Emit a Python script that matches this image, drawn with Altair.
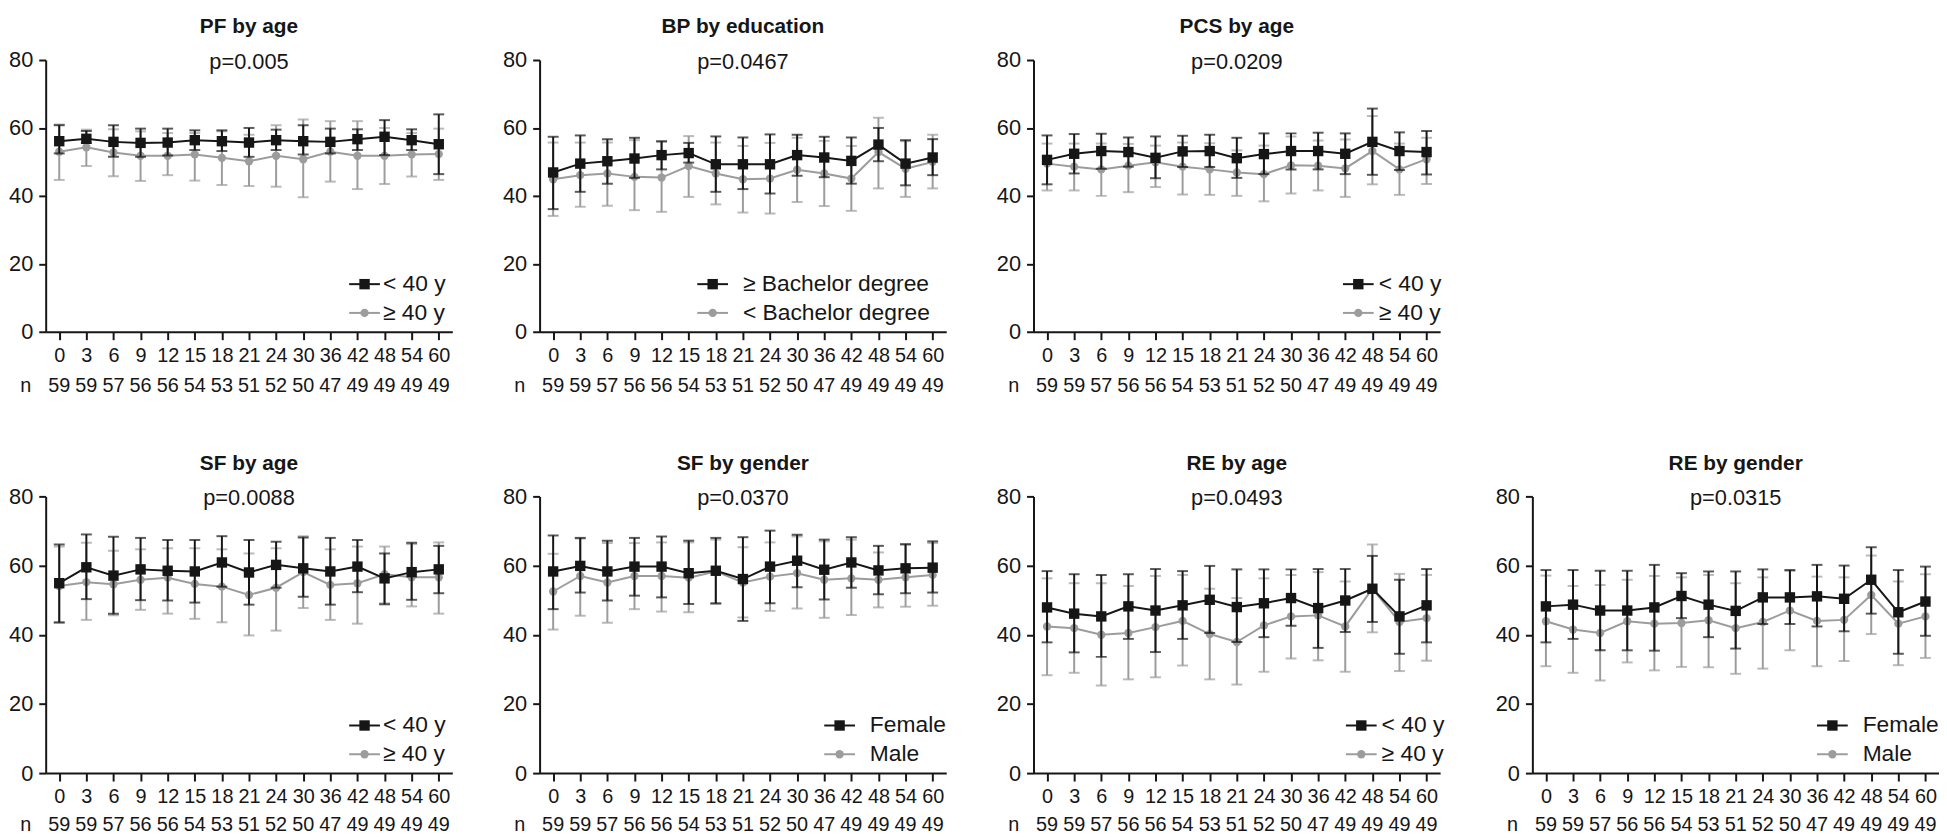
import altair as alt
import pandas as pd

# ---------------- data ----------------
months = ["0", "3", "6", "9", "12", "15", "18", "21", "24", "30", "36", "42", "48", "54", "60"]
n_counts = [59, 59, 57, 56, 56, 54, 53, 51, 52, 50, 47, 49, 49, 49, 49]

# PF by age
pf_young_mean = [56.1, 56.8, 55.9, 55.6, 55.7, 56.4, 56.1, 55.7, 56.4, 56.1, 55.9, 56.7, 57.4, 56.4, 55.2]
pf_young_hi = [60.8, 59.1, 60.8, 59.8, 59.8, 59.3, 59.3, 60.0, 59.5, 60.8, 59.8, 59.6, 62.3, 59.6, 64.0]
pf_young_lo = [52.5, 55.6, 51.5, 51.5, 51.9, 53.5, 53.2, 51.5, 53.5, 52.2, 52.5, 53.5, 52.0, 53.5, 46.4]
pf_old_mean = [53.0, 54.3, 52.8, 51.8, 51.8, 52.2, 51.2, 50.2, 51.8, 50.8, 53.0, 51.8, 51.8, 52.2, 52.3]
pf_old_hi = [61.0, 59.5, 59.6, 59.0, 58.5, 58.5, 59.0, 58.0, 60.8, 62.5, 62.0, 62.0, 60.0, 58.5, 59.8]
pf_old_lo = [44.7, 48.8, 45.8, 44.4, 46.1, 44.5, 43.2, 42.9, 42.7, 39.6, 44.2, 42.0, 43.5, 45.7, 44.7]

# BP by education
bp_hi_ed_mean = [46.9, 49.5, 50.2, 51.0, 52.0, 52.6, 49.3, 49.3, 49.3, 52.0, 51.3, 50.3, 55.1, 49.5, 51.3]
bp_hi_ed_hi = [57.4, 57.8, 56.7, 57.1, 56.1, 55.6, 57.5, 57.2, 58.1, 58.0, 57.4, 57.2, 60.0, 56.4, 56.7]
bp_hi_ed_lo = [36.1, 41.2, 43.6, 45.3, 47.8, 49.8, 41.2, 42.0, 40.7, 45.9, 45.5, 43.6, 50.2, 43.1, 46.1]
bp_lo_ed_mean = [44.9, 46.1, 46.6, 45.6, 45.4, 48.8, 46.6, 44.9, 45.1, 47.7, 46.6, 45.1, 52.9, 48.0, 50.0]
bp_lo_ed_hi = [55.7, 55.7, 55.7, 56.4, 55.9, 57.6, 55.7, 54.7, 55.6, 57.1, 56.2, 54.7, 63.0, 56.1, 58.0]
bp_lo_ed_lo = [34.1, 36.8, 37.1, 35.8, 35.3, 39.7, 37.5, 35.1, 34.8, 38.2, 37.0, 35.6, 42.2, 39.7, 42.2]

# PCS by age
pcs_young_mean = [50.6, 52.4, 53.2, 52.9, 51.2, 53.1, 53.2, 51.1, 52.3, 53.2, 53.2, 52.4, 55.9, 53.2, 52.9]
pcs_young_hi = [57.8, 58.2, 58.3, 57.2, 57.5, 57.7, 58.0, 57.1, 58.4, 58.4, 58.6, 58.4, 65.7, 58.7, 59.1]
pcs_young_lo = [43.4, 46.6, 48.0, 48.6, 45.2, 48.5, 48.5, 45.3, 46.4, 47.8, 47.8, 46.4, 46.2, 47.6, 46.3]
pcs_old_mean = [49.5, 48.6, 47.8, 48.9, 49.9, 48.6, 47.8, 46.9, 46.4, 49.0, 48.9, 48.1, 53.2, 47.8, 50.8]
pcs_old_hi = [55.4, 55.4, 55.4, 55.3, 54.8, 55.7, 55.5, 53.4, 54.8, 57.5, 56.3, 56.6, 63.5, 55.4, 57.1]
pcs_old_lo = [41.6, 41.6, 40.0, 41.1, 42.6, 40.4, 40.3, 40.0, 38.4, 40.7, 41.6, 39.7, 43.4, 40.3, 43.5]

# SF by age
sfa_young_mean = [54.9, 59.5, 57.1, 58.9, 58.5, 58.3, 60.9, 58.0, 60.2, 59.2, 58.3, 59.7, 56.3, 58.1, 58.9]
sfa_young_hi = [66.1, 69.0, 68.3, 68.0, 67.4, 67.4, 68.5, 67.4, 66.9, 68.1, 68.0, 67.4, 63.5, 66.6, 65.7]
sfa_young_lo = [43.6, 50.3, 46.1, 50.0, 49.9, 49.3, 53.9, 48.7, 53.6, 51.0, 48.7, 52.3, 48.8, 50.1, 52.0]
sfa_old_mean = [54.1, 55.2, 54.6, 55.9, 56.5, 54.7, 53.9, 51.5, 53.6, 58.1, 54.4, 54.9, 57.5, 56.6, 56.6]
sfa_old_hi = [65.5, 66.6, 64.3, 64.7, 65.0, 65.0, 64.7, 63.5, 65.0, 68.5, 64.7, 65.5, 65.5, 66.2, 66.7]
sfa_old_lo = [43.4, 44.3, 45.6, 47.2, 46.1, 44.6, 43.6, 39.8, 41.2, 47.7, 44.3, 43.2, 49.1, 48.2, 46.1]

# SF by gender
sfg_female_mean = [58.3, 59.9, 58.3, 59.7, 59.7, 57.8, 58.5, 56.1, 59.7, 61.4, 58.8, 60.9, 58.6, 59.2, 59.4]
sfg_female_hi = [68.7, 68.0, 67.2, 68.0, 68.4, 67.2, 68.0, 68.2, 70.1, 68.9, 67.5, 68.2, 65.7, 66.2, 67.0]
sfg_female_lo = [47.4, 52.2, 49.9, 51.3, 50.8, 48.9, 49.1, 44.0, 49.1, 53.7, 50.2, 53.6, 51.7, 52.0, 52.2]
sfg_male_mean = [52.5, 57.0, 55.1, 57.0, 57.0, 56.5, 58.3, 55.1, 56.8, 57.8, 55.9, 56.3, 55.9, 56.6, 57.3]
sfg_male_hi = [63.4, 67.8, 66.5, 66.5, 66.7, 66.7, 67.5, 65.3, 66.7, 68.4, 67.0, 67.5, 63.8, 66.0, 66.5]
sfg_male_lo = [41.5, 45.5, 43.5, 47.4, 46.7, 46.5, 48.9, 45.0, 46.9, 47.6, 44.9, 45.7, 47.9, 48.1, 48.4]

# RE by age
rea_young_mean = [47.9, 46.1, 45.3, 48.2, 47.0, 48.5, 50.1, 48.0, 49.1, 50.6, 47.7, 49.9, 53.3, 45.3, 48.5]
rea_young_hi = [58.4, 57.5, 57.3, 57.5, 59.0, 58.4, 59.9, 58.9, 58.9, 58.9, 59.0, 59.0, 62.8, 55.9, 59.0]
rea_young_lo = [37.8, 34.9, 33.6, 38.8, 35.0, 38.8, 40.5, 37.9, 39.3, 42.6, 36.2, 40.8, 43.7, 34.5, 37.8]
rea_old_mean = [42.4, 41.9, 40.0, 40.5, 42.2, 44.0, 40.2, 37.9, 42.7, 45.3, 45.6, 42.4, 53.3, 43.7, 44.8]
rea_old_hi = [56.3, 54.9, 54.9, 54.1, 57.0, 57.3, 53.3, 50.6, 56.3, 57.3, 58.1, 55.4, 66.1, 57.6, 57.3]
rea_old_lo = [28.3, 29.0, 25.3, 27.1, 27.7, 31.1, 27.1, 25.6, 29.3, 33.1, 32.6, 29.3, 40.7, 29.5, 32.5]

# RE by gender
reg_female_mean = [48.2, 48.7, 47.0, 47.0, 47.9, 51.2, 48.7, 46.9, 50.8, 50.8, 51.1, 50.4, 55.9, 46.5, 49.6]
reg_female_hi = [58.7, 58.7, 58.5, 58.5, 60.2, 57.8, 58.3, 58.3, 58.9, 58.7, 60.2, 60.0, 65.3, 58.7, 59.7]
reg_female_lo = [37.8, 38.8, 35.5, 35.5, 35.4, 44.8, 39.3, 36.0, 43.1, 43.1, 42.4, 41.0, 46.1, 34.5, 39.7]
reg_male_mean = [43.9, 41.5, 40.5, 43.9, 43.2, 43.4, 44.2, 41.9, 43.7, 47.0, 44.0, 44.3, 51.5, 43.2, 45.3]
reg_male_hi = [57.1, 54.1, 54.4, 55.9, 57.0, 56.6, 57.3, 54.9, 56.6, 58.4, 56.8, 56.6, 62.9, 55.4, 57.5]
reg_male_lo = [30.9, 29.0, 26.8, 32.0, 29.7, 30.7, 30.6, 28.7, 30.2, 35.5, 30.9, 32.4, 40.2, 31.2, 33.3]

# ---------------- style ----------------
FONT = "Liberation Sans"
BLACK = "#161616"
GRAY = "#9c9c9c"
W = 410
H1, H2 = 274, 279
TICK_FS = 20
YTICK_FS = 22
LEG_FS = 23


def x_enc():
    return alt.X(
        "t:O",
        sort=months,
        scale=alt.Scale(type="point", padding=0.5),
        axis=alt.Axis(title=None, labelAngle=0, labelFontSize=TICK_FS, tickSize=8,
                      labelPadding=6, domainWidth=2, tickWidth=2,
                      domainColor=BLACK, tickColor=BLACK, labelColor=BLACK,
                      labelFont=FONT),
    )


def y_enc(field):
    return alt.Y(
        field,
        scale=alt.Scale(domain=[0, 80]),
        axis=alt.Axis(title=None, values=[0, 20, 40, 60, 80], labelFontSize=YTICK_FS,
                      tickSize=7, labelPadding=6, domainWidth=2, tickWidth=2,
                      domainColor=BLACK, tickColor=BLACK, labelColor=BLACK,
                      labelFont=FONT, grid=False),
    )


def series_layers(mean, lo, hi, color, shape, size):
    df = pd.DataFrame({"t": months, "mean": mean, "lo": lo, "hi": hi})
    base = alt.Chart(df)
    err = base.mark_rule(color=color, strokeWidth=2).encode(
        x=x_enc(), y=y_enc("lo:Q"), y2="hi:Q")
    cap_hi = base.mark_tick(color=color, thickness=2, size=11).encode(
        x=x_enc(), y=y_enc("hi:Q"))
    cap_lo = base.mark_tick(color=color, thickness=2, size=11).encode(
        x=x_enc(), y=y_enc("lo:Q"))
    line = base.mark_line(color=color, strokeWidth=2).encode(
        x=x_enc(), y=y_enc("mean:Q"))
    pts = base.mark_point(shape=shape, filled=True, size=size, color=color,
                          opacity=1).encode(x=x_enc(), y=y_enc("mean:Q"))
    return [err, cap_hi, cap_lo, line, pts]


def legend_row(label, color, shape, size, sym_x, txt_x, row_y):
    d = alt.Chart(pd.DataFrame({"label": [label]}))
    rule = d.mark_rule(color=color, strokeWidth=2).encode(
        x=alt.value(sym_x), x2=alt.value(sym_x + 31), y=alt.value(row_y))
    pt = d.mark_point(shape=shape, filled=True, size=size, color=color,
                      opacity=1).encode(x=alt.value(sym_x + 15.5), y=alt.value(row_y))
    txt = d.mark_text(font=FONT, fontSize=LEG_FS, align="left", baseline="middle",
                      color=BLACK).encode(x=alt.value(txt_x), y=alt.value(row_y),
                                          text="label:N")
    return [rule, pt, txt]


def panel(title, p, black, gray, lab_black, lab_gray, sym_x, txt_x, h, n_off):
    layers = []
    layers += series_layers(*gray, GRAY, "circle", 70)
    layers += series_layers(*black, BLACK, "square", 110)
    ndf = pd.DataFrame({"t": months, "n": n_counts})
    layers.append(alt.Chart(ndf).mark_text(font=FONT, fontSize=TICK_FS, baseline="middle",
                                           color=BLACK).encode(
        x=x_enc(), y=alt.value(h + n_off), text="n:Q"))
    layers.append(alt.Chart(pd.DataFrame({"lab": ["n"]})).mark_text(
        font=FONT, fontSize=TICK_FS, baseline="middle", color=BLACK).encode(
        x=alt.value(-20), y=alt.value(h + n_off), text="lab:N"))
    layers += legend_row(lab_black, BLACK, "square", 110, sym_x, txt_x, h - 48)
    layers += legend_row(lab_gray, GRAY, "circle", 70, sym_x, txt_x, h - 19)
    return alt.layer(*layers).properties(
        width=W, height=h,
        title=alt.TitleParams(text=title, subtitle=p, font=FONT, fontSize=21,
                              fontWeight="bold", color=BLACK, subtitleFont=FONT,
                              subtitleFontSize=22, subtitleFontWeight="normal",
                              subtitleColor=BLACK, subtitlePadding=15,
                              anchor="middle", offset=-24),
    )


p1 = panel("PF by age", "p=0.005",
           (pf_young_mean, pf_young_lo, pf_young_hi), (pf_old_mean, pf_old_lo, pf_old_hi),
           "< 40 y", "≥ 40 y", 306, 340, H1, 55)
p2 = panel("BP by education", "p=0.0467",
           (bp_hi_ed_mean, bp_hi_ed_lo, bp_hi_ed_hi), (bp_lo_ed_mean, bp_lo_ed_lo, bp_lo_ed_hi),
           "≥ Bachelor degree", "< Bachelor degree", 159, 205, H1, 55)
p3 = panel("PCS by age", "p=0.0209",
           (pcs_young_mean, pcs_young_lo, pcs_young_hi), (pcs_old_mean, pcs_old_lo, pcs_old_hi),
           "< 40 y", "≥ 40 y", 312, 348, H1, 55)
p4 = panel("SF by age", "p=0.0088",
           (sfa_young_mean, sfa_young_lo, sfa_young_hi), (sfa_old_mean, sfa_old_lo, sfa_old_hi),
           "< 40 y", "≥ 40 y", 306, 340, H2, 52)
p5 = panel("SF by gender", "p=0.0370",
           (sfg_female_mean, sfg_female_lo, sfg_female_hi), (sfg_male_mean, sfg_male_lo, sfg_male_hi),
           "Female", "Male", 287, 333, H2, 52)
p6 = panel("RE by age", "p=0.0493",
           (rea_young_mean, rea_young_lo, rea_young_hi), (rea_old_mean, rea_old_lo, rea_old_hi),
           "< 40 y", "≥ 40 y", 315, 351, H2, 52)
p7 = panel("RE by gender", "p=0.0315",
           (reg_female_mean, reg_female_lo, reg_female_hi), (reg_male_mean, reg_male_lo, reg_male_hi),
           "Female", "Male", 287, 333, H2, 52)

row1 = alt.hconcat(p1, p2, p3, spacing=50)
row2 = alt.hconcat(p4, p5, p6, p7, spacing=50)

chart = alt.vconcat(row1, row2, spacing=57).properties(
    padding={"left": 0, "top": 5, "right": 0, "bottom": 0},
    background="white",
).configure_view(stroke=None)

chart.save("out.html", embed_options={"renderer": "svg", "actions": False})
